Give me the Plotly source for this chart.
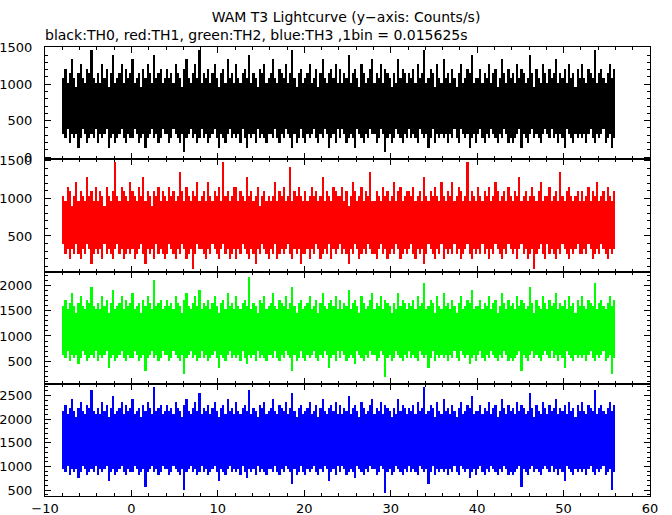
import plotly.graph_objects as go
from plotly.subplots import make_subplots

# ---- data (counts per bin, read as per-column lows/highs; 1 bin = 0.015625 s) ----
BIN = 0.015625
T_START, T_END = -8.0, 56.0

th0_high = [
17,19,16,18,21,17,15,18,20,17,16,19,18,23,17,16,
18,16,20,17,19,15,18,22,16,17,18,20,16,19,17,18,
21,16,17,18,15,19,17,20,18,16,22,17,18,19,16,17,
19,17,18,16,20,18,17,15,19,21,17,16,18,20,17,23,
16,18,17,19,16,18,20,17,15,18,19,16,21,17,18,16,
20,17,16,18,19,17,22,16,18,17,15,19,18,20,16,17,
18,21,17,16,19,18,17,20,16,18,23,17,15,18,19,16,
17,18,20,16,17,19,15,18,21,17,16,18,19,17,20,16,
19,16,18,17,22,16,18,19,17,15,20,18,16,17,19,21,
16,18,17,20,16,19,18,17,15,18,16,21,17,19,18,16,
18,17,19,16,20,17,18,23,16,17,19,18,15,20,17,16,
21,17,18,16,19,17,15,18,20,16,17,19,18,22,16,17,
17,19,16,18,17,20,16,18,19,15,17,21,18,16,19,17,
18,16,20,17,19,18,16,17,22,18,15,19,17,16,20,18,
16,19,17,18,21,16,18,17,19,16,20,17,18,15,19,17,
20,17,16,19,18,17,23,16,18,19,17,16,18,20,17,19]
th0_low = [
5,4,6,3,5,4,5,2,4,6,5,3,4,5,4,6,
3,5,4,5,6,2,4,5,3,4,5,6,4,3,5,4,
4,6,5,3,4,5,2,4,5,6,4,5,3,4,6,5,
5,3,4,6,5,4,3,5,1,4,5,6,4,5,3,4,
6,4,5,3,4,5,6,4,2,5,4,3,5,6,4,5,
4,5,3,6,4,2,5,4,5,3,6,4,5,4,3,5,
5,4,6,4,3,5,4,6,5,4,2,5,3,4,6,4,
3,5,4,5,6,4,3,5,4,6,5,2,4,5,3,6,
4,6,5,3,4,5,4,2,6,5,4,3,5,4,6,5,
5,3,4,6,5,1,4,5,3,4,6,5,4,3,5,4,
6,4,5,4,3,6,5,4,5,2,4,6,3,5,4,5,
4,5,3,5,4,6,4,3,6,5,4,5,2,4,5,3,
5,6,4,3,5,4,6,5,4,3,5,4,6,5,3,4,
3,4,5,6,2,5,4,3,5,6,4,5,4,3,5,6,
5,4,6,4,5,3,5,4,2,6,5,4,3,5,4,5,
4,5,3,5,6,4,3,5,4,5,6,3,4,5,2,4]

th1_high = [
16,15,18,17,14,16,19,15,17,16,15,20,16,17,15,18,
15,17,16,14,18,16,15,17,23,16,15,18,17,16,15,19,
17,16,15,18,16,20,15,17,16,14,17,16,18,15,17,16,
15,18,16,17,15,16,21,17,15,18,16,15,17,16,19,15,
16,17,15,19,16,15,17,16,18,15,23,16,17,15,16,18,
18,15,17,16,15,20,16,17,15,16,18,14,16,17,15,16,
15,16,19,15,17,16,18,15,16,22,15,17,16,18,16,15,
17,15,16,18,16,17,15,16,20,15,17,16,15,18,17,16,
16,18,15,17,14,16,19,17,15,16,18,15,17,16,21,15,
15,17,16,15,18,16,17,15,16,19,15,17,18,15,16,17,
17,16,18,15,16,17,15,20,16,15,17,16,18,16,15,19,
16,15,17,16,19,15,16,18,17,15,16,23,15,17,16,15,
18,16,15,17,16,18,15,16,19,17,15,16,17,15,18,16,
15,17,16,20,15,16,17,15,16,18,16,15,17,19,15,16,
16,18,15,16,17,15,21,16,15,17,18,16,15,16,17,15,
17,15,16,18,15,17,16,19,15,16,17,15,18,16,15,17]
th1_low = [
6,4,5,3,5,4,6,4,3,5,4,6,5,2,4,5,
4,5,3,6,4,5,4,3,5,6,4,5,3,4,5,4,
5,3,4,5,6,4,2,5,4,5,3,6,4,5,4,3,
4,6,5,4,3,5,4,6,5,3,4,5,1,4,6,5,
5,4,3,5,4,6,5,4,3,5,6,4,5,3,4,5,
3,5,4,6,5,4,3,5,4,2,5,4,6,5,4,3,
5,4,6,3,4,5,4,5,6,4,3,5,4,5,2,4,
4,5,3,5,4,6,5,3,4,5,4,6,3,5,4,5,
6,4,5,4,2,5,4,6,5,3,4,5,4,6,5,4,
4,3,5,6,4,5,3,4,5,4,6,5,3,4,5,4,
5,6,4,3,5,4,5,2,4,6,5,4,3,5,4,6,
3,5,4,5,4,6,4,5,3,4,5,6,4,3,5,4,
5,4,6,4,5,3,5,4,6,5,4,3,5,4,6,5,
4,5,3,5,6,4,5,3,4,5,1,4,5,6,4,3,
6,4,5,4,3,5,4,6,5,4,3,5,4,5,6,4,
4,5,4,6,5,3,4,5,4,6,5,4,3,5,4,5]

th2_high = [
25,27,24,26,29,25,23,26,28,25,24,27,26,31,25,24,
26,24,28,25,27,23,26,30,24,25,26,28,24,27,25,26,
29,24,25,26,23,27,25,28,26,24,33,25,26,27,24,25,
27,25,26,24,28,26,25,23,27,29,25,24,26,28,25,30,
24,26,25,27,24,26,28,25,23,26,27,24,29,25,26,24,
28,25,24,26,27,25,34,24,26,25,23,27,26,28,24,25,
26,29,25,24,27,26,25,28,24,26,31,25,23,26,27,24,
25,26,28,24,25,27,23,26,29,25,24,26,27,25,28,24,
27,24,26,25,30,24,26,27,25,23,28,26,24,25,27,29,
24,26,25,28,24,27,26,25,23,26,24,29,25,27,26,24,
26,25,27,24,28,25,26,32,24,25,27,26,23,28,25,24,
29,25,26,24,27,25,23,26,28,24,25,27,26,30,24,25,
25,27,24,26,25,28,24,26,27,23,25,29,26,24,27,25,
26,24,28,25,27,26,24,25,31,26,23,27,25,24,28,26,
24,27,25,26,29,24,26,25,27,24,28,25,26,23,27,25,
28,25,24,27,26,25,32,24,26,27,25,24,26,28,25,27]
th2_low = [
10,9,11,8,10,9,10,7,9,11,10,8,9,10,9,11,
8,10,9,10,11,6,9,10,8,9,10,11,9,8,10,9,
9,11,10,8,9,10,5,9,10,11,9,10,8,9,11,10,
10,8,9,11,10,9,8,10,4,9,10,11,9,10,8,9,
11,9,10,8,9,10,11,9,6,10,9,8,10,11,9,10,
9,10,8,11,9,7,10,9,10,8,11,9,10,9,8,10,
10,9,11,9,8,10,9,11,10,9,5,10,8,9,11,9,
8,10,9,10,11,9,8,10,9,11,10,6,9,10,8,11,
9,11,10,8,9,10,9,7,11,10,9,8,10,9,11,10,
10,8,9,11,10,3,9,10,8,9,11,10,9,8,10,9,
11,9,10,9,8,11,10,9,10,6,9,11,8,10,9,10,
9,10,8,10,9,11,9,8,11,10,9,10,7,9,10,8,
10,11,9,8,10,9,11,10,9,8,10,9,11,10,8,9,
8,9,10,11,5,10,9,8,10,11,9,10,9,8,10,11,
10,9,11,9,10,8,10,9,6,11,10,9,8,10,9,10,
9,10,8,10,11,9,8,10,9,10,11,8,9,10,4,9]

th3_high = [
34,36,33,35,38,34,32,35,37,34,33,36,35,41,34,33,
35,33,37,34,36,32,35,39,33,34,35,37,33,36,34,35,
38,33,34,35,32,36,34,37,35,33,42,34,35,36,33,34,
36,34,35,33,37,35,34,32,36,38,34,33,35,37,34,40,
33,35,34,36,33,35,37,34,32,35,36,33,38,34,35,33,
37,34,33,35,36,34,41,33,35,34,32,36,35,37,33,34,
35,38,34,33,36,35,34,37,33,35,40,34,32,35,36,33,
34,35,37,33,34,36,32,35,38,34,33,35,36,34,37,33,
36,33,35,34,39,33,35,36,34,32,37,35,33,34,36,38,
33,35,34,37,33,36,35,34,32,35,33,38,34,36,35,33,
35,34,36,33,37,34,35,42,33,34,36,35,32,37,34,33,
38,34,35,33,36,34,32,35,37,33,34,36,35,39,33,34,
34,36,33,35,34,37,33,35,36,32,34,38,35,33,36,34,
35,33,37,34,36,35,33,34,40,35,32,36,34,33,37,35,
33,36,34,35,38,33,35,34,36,33,37,34,35,32,36,34,
37,34,33,36,35,34,41,33,35,36,34,33,35,37,34,36]
th3_low = [
15,14,16,13,15,14,15,12,14,16,15,13,14,15,14,16,
13,15,14,15,16,11,14,15,13,14,15,16,14,13,15,14,
14,16,15,13,14,15,9,14,15,16,14,15,13,14,16,15,
15,13,14,16,15,14,13,15,8,14,15,16,14,15,13,14,
16,14,15,13,14,15,16,14,11,15,14,13,15,16,14,15,
14,15,13,16,14,12,15,14,15,13,16,14,15,14,13,15,
15,14,16,14,13,15,14,16,15,14,10,15,13,14,16,14,
13,15,14,15,16,14,13,15,14,16,15,11,14,15,13,16,
14,16,15,13,14,15,14,12,16,15,14,13,15,14,16,15,
15,13,14,16,15,7,14,15,13,14,16,15,14,13,15,14,
16,14,15,14,13,16,15,14,15,10,14,16,13,15,14,15,
14,15,13,15,14,16,14,13,16,15,14,15,12,14,15,13,
15,16,14,13,15,14,16,15,14,13,15,14,16,15,13,14,
13,14,15,16,9,15,14,13,15,16,14,15,14,13,15,16,
15,14,16,14,15,13,15,14,11,16,15,14,13,15,14,15,
14,15,13,15,16,14,13,15,14,15,16,13,14,15,8,14]

series = [
    ("TH0", th0_low, th0_high, "#000000"),
    ("TH1", th1_low, th1_high, "#ff0000"),
    ("TH2", th2_low, th2_high, "#00ff00"),
    ("TH3", th3_low, th3_high, "#0000ff"),
]
y_ranges = [[-30, 1512], [29, 1518], [57, 2272], [373, 2753]]
x_range = [-10, 60]


def build(low, high):
    n = len(low)
    dt = (T_END - T_START) / n
    xs = [T_START + (k + 0.5) * dt for k in range(n)]
    base = [lo / BIN for lo in low]
    span = [(hi - lo) / BIN for lo, hi in zip(low, high)]
    return xs, base, span, dt


fig = make_subplots(rows=4, cols=1, shared_xaxes=True, vertical_spacing=0)

TICKFONT = dict(family="DejaVu Sans", size=13, color="black")
SUBFONT = dict(family="DejaVu Sans", size=14, color="black")
TITLEFONT = dict(family="DejaVu Sans", size=14, color="black")

for i, (name, lo, hi, col) in enumerate(series, start=1):
    xs, base, span, dt = build(lo, hi)
    fig.add_trace(go.Bar(x=xs, y=span, base=base, width=dt, name=name,
                         marker=dict(color=col, line=dict(width=0)),
                         hoverinfo="skip", showlegend=False), row=i, col=1)
    fig.update_xaxes(range=x_range, showline=True, linecolor="black", linewidth=1,
                     mirror="allticks", ticks="inside", ticklen=6, tickcolor="black",
                     tick0=0, dtick=10, showgrid=False, zeroline=False, automargin=False,
                     minor=dict(dtick=2, ticks="inside", ticklen=3, tickcolor="black", showgrid=False),
                     showticklabels=(i == 4), tickfont=TICKFONT, row=i, col=1)
    fig.update_yaxes(range=y_ranges[i - 1], showline=True, linecolor="black", linewidth=1,
                     mirror="allticks", ticks="inside", ticklen=6, tickcolor="black",
                     tick0=0, dtick=500, showgrid=False, zeroline=False, automargin=False,
                     minor=dict(dtick=100, ticks="inside", ticklen=3, tickcolor="black", showgrid=False),
                     tickfont=TICKFONT, ticklabelstandoff=9, row=i, col=1)

W, H = 672, 515
fig.update_layout(
    width=W, height=H,
    margin=dict(l=45, r=22, t=47, b=19, autoexpand=False),
    paper_bgcolor="white", plot_bgcolor="white",
    bargap=0, barmode="overlay",
    font=SUBFONT,
    title=dict(text="WAM T3 Lightcurve (y\u2212axis: Counts/s)", x=346 / W, y=1 - 17 / H,
               xref="container", yref="container", xanchor="center", yanchor="middle",
               font=TITLEFONT, automargin=False),
    annotations=[dict(text="black:TH0, red:TH1, green:TH2, blue:TH3 ,1bin = 0.015625s",
                      xref="paper", yref="paper", x=-0.004, y=(496 - 35) / 449,
                      xanchor="left", yanchor="middle", showarrow=False, font=SUBFONT)],
)

# remove the page's default 8px body margin so the figure sits at the window origin
fig.write_html("out.html", config={"displayModeBar": False},
               post_script="document.body.style.margin='0px';")
